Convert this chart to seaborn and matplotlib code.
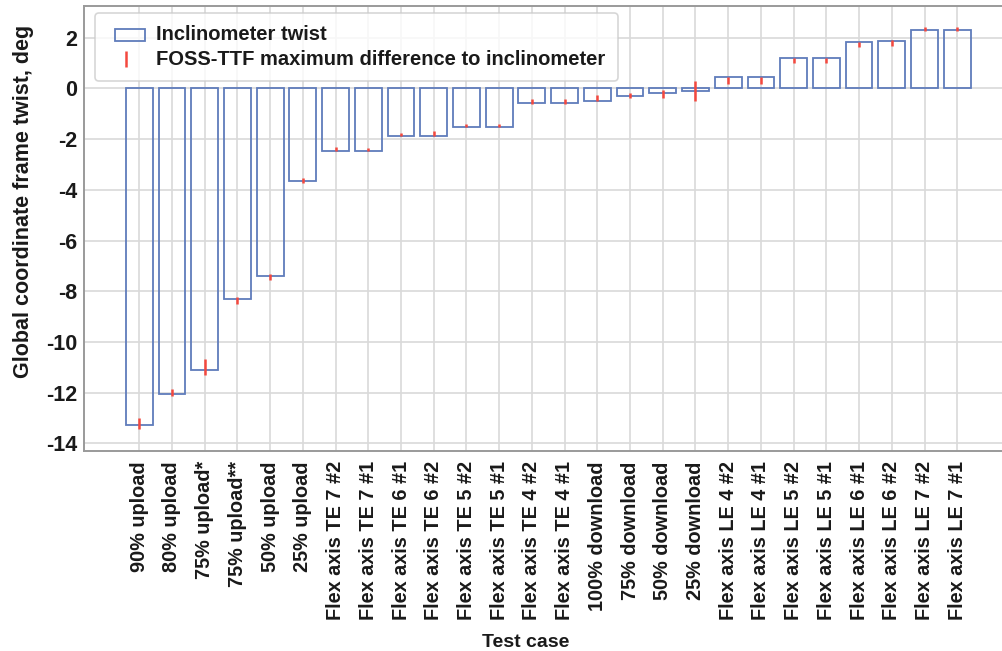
import numpy as np
import pandas as pd
import matplotlib
matplotlib.use("Agg")
import matplotlib.pyplot as plt
import seaborn as sns
from matplotlib.patches import Patch, Rectangle
from matplotlib.lines import Line2D
from matplotlib.legend_handler import HandlerPatch

# Test cases and inclinometer twist (deg)
cases = ["90% upload", "80% upload", "75% upload*", "75% upload**", "50% upload",
         "25% upload", "Flex axis TE 7 #2", "Flex axis TE 7 #1", "Flex axis TE 6 #1",
         "Flex axis TE 6 #2", "Flex axis TE 5 #2", "Flex axis TE 5 #1",
         "Flex axis TE 4 #2", "Flex axis TE 4 #1", "100% download", "75% download",
         "50% download", "25% download", "Flex axis LE 4 #2", "Flex axis LE 4 #1",
         "Flex axis LE 5 #2", "Flex axis LE 5 #1", "Flex axis LE 6 #1",
         "Flex axis LE 6 #2", "Flex axis LE 7 #2", "Flex axis LE 7 #1"]
twist = [-13.28, -12.06, -11.09, -8.31, -7.39, -3.64, -2.46, -2.46, -1.87, -1.87,
         -1.52, -1.52, -0.58, -0.58, -0.48, -0.31, -0.18, -0.10, 0.45, 0.45,
         1.21, 1.21, 1.83, 1.85, 2.31, 2.31]

# FOSS-TTF max difference range (lower / upper end of the red marks)
foss_low = [-13.45, -12.14, -11.29, -8.49, -7.55, -3.74, -2.46, -2.46, -1.89, -1.87,
            -1.52, -1.52, -0.60, -0.60, -0.48, -0.37, -0.37, -0.50, 0.19, 0.19,
            1.01, 1.01, 1.63, 1.67, 2.28, 2.28]
foss_high = [-12.99, -11.85, -10.67, -8.23, -7.31, -3.55, -2.33, -2.36, -1.75, -1.68,
             -1.39, -1.39, -0.41, -0.41, -0.28, -0.18, -0.05, 0.31, 0.45, 0.45,
             1.21, 1.21, 1.82, 1.89, 2.41, 2.41]

df = pd.DataFrame({"case": cases, "twist": twist})

sns.set_theme(style="whitegrid")
plt.rcParams["font.family"] = ["Liberation Sans", "DejaVu Sans"]
plt.rcParams["font.weight"] = "bold"
plt.rcParams["axes.unicode_minus"] = False

blue = "#5f7cbb"
red = "#f4483e"
text_col = "#1a1a1a"

fig = plt.figure(figsize=(10.02, 6.51), dpi=100)
ax = fig.add_axes([0.0838, 0.3065, 0.9267, 0.6843])

sns.barplot(data=df, x="case", y="twist", fill=False, color=blue,
            width=0.82, linewidth=1.3, errorbar=None, ax=ax, zorder=3)
for p in ax.patches:
    p.set_edgecolor(blue)

x = np.arange(len(cases))
ax.vlines(x, foss_low, foss_high, color=red, linewidth=1.8, zorder=4)

ax.set_xlim(-1.69, len(cases) - 1 + 1.69)
ax.set_ylim(-14.32, 3.25)
ax.set_yticks(np.arange(-14, 3, 2))

ax.grid(True, color="#d9d9d9", linewidth=1.2)
ax.set_axisbelow(True)
for side in ["left", "top", "bottom"]:
    ax.spines[side].set_color("#9a9a9a")
    ax.spines[side].set_linewidth(1.4)
ax.spines["right"].set_visible(False)

ax.tick_params(axis="x", length=4, width=1, color="#555555", pad=3,
               labelsize=14.3, labelcolor=text_col, rotation=90)
ax.tick_params(axis="y", length=4, width=1, color="#9a9a9a", pad=1,
               labelsize=15.5, labelcolor=text_col)
for lab in ax.get_xticklabels() + ax.get_yticklabels():
    lab.set_fontweight("bold")

ax.set_xlabel("Test case", fontsize=14, fontweight="bold", color=text_col)
ax.set_ylabel("Global coordinate frame twist, deg", fontsize=15.5,
              fontweight="bold", color=text_col)
ax.xaxis.set_label_coords(0.476, -0.41)
ax.yaxis.set_label_coords(-0.054, 0.561)


def box_handle(legend, orig_handle, xdescent, ydescent, width, height, fontsize):
    # narrower outline box, pushed to the right of the handle area
    return Rectangle((xdescent + 6, ydescent), width - 6, height)


handles = [Patch(facecolor="none", edgecolor=blue, linewidth=1.3),
           Line2D([], [], color=red, marker="|", linestyle="none",
                  markersize=12, markeredgewidth=1.8)]
labels = ["Inclinometer twist", "FOSS-TTF maximum difference to inclinometer"]
leg = ax.legend(handles, labels, loc="upper left", bbox_to_anchor=(0.0118, 0.984),
                borderaxespad=0, frameon=True, fancybox=True, fontsize=14.5,
                handlelength=1.9, handleheight=0.55, handletextpad=0.55,
                labelspacing=0.3, borderpad=0.6,
                handler_map={Patch: HandlerPatch(patch_func=box_handle)})
leg.get_frame().set_edgecolor("#cccccc")
leg.get_frame().set_linewidth(1.2)
for t in leg.get_texts():
    t.set_fontweight("bold")
    t.set_color(text_col)

fig.savefig("out.png", dpi=100)
